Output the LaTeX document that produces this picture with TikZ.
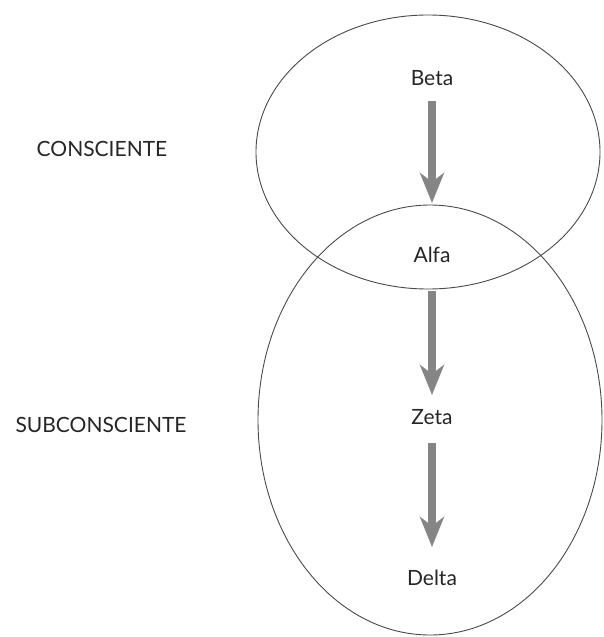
\documentclass[tikz,border=0pt]{standalone}
\usepackage{fontspec}
\setmainfont{Lato}
\usetikzlibrary{arrows.meta}
\definecolor{ringcol}{HTML}{4A4A4A}
\definecolor{arrowcol}{HTML}{858585}
\begin{document}
\begin{tikzpicture}[x=1pt,y=-1pt,
  ring/.style={draw=ringcol,line width=0.9pt},
  lbl/.style={font=\fontsize{21}{25}\selectfont,text=black!85,inner sep=0pt},
  bigarrow/.style={draw=arrowcol,line width=7.5pt,-{Stealth[length=30pt,width=24pt,inset=9pt,color=arrowcol]}}]
\useasboundingbox (0,0) rectangle (603,637);
\fill[white] (0,0) rectangle (603,637);
\draw[ring] (428,152) ellipse [x radius=172, y radius=137];
\draw[ring] (430,420) ellipse [x radius=172, y radius=215];
\node[lbl] (beta) at (432,78) {Beta};
\node[lbl] (alfa) at (432,255) {Alfa};
\node[lbl] (zeta) at (432,417) {Zeta};
\node[lbl] (delta) at (432,578) {Delta};
\node[lbl] (consc) at (102,149) {CONSCIENTE};
\node[lbl] (subc) at (101,425) {SUBCONSCIENTE};
\draw[bigarrow] ([yshift=-23pt]beta.center) -- ([yshift=52pt]alfa.center);
\draw[bigarrow] ([yshift=-36pt]alfa.center) -- ([yshift=22pt]zeta.center);
\draw[bigarrow] ([yshift=-26pt]zeta.center) -- ([yshift=31pt]delta.center);
\end{tikzpicture}
\end{document}
